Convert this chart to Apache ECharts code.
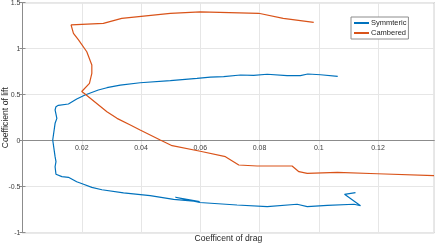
<!DOCTYPE html>
<html>
<head>
<meta charset="utf-8">
<script src="https://cdn.jsdelivr.net/npm/echarts@6/dist/echarts.min.js"></script>
<style>html,body{margin:0;padding:0;background:#fff}#c{width:436px;height:243px}</style>
</head>
<body>
<div id="c"></div>
<script>
const seriesNames = ['Symmteric', 'Cambered'];
const symDrag = [0.1124,0.1087,0.1141,0.1119,0.1029,0.0961,0.0927,0.0826,0.0724,0.0598,0.0516,0.0598,0.0510,0.0431,0.0341,0.0268,0.0234,0.0206,0.0183,0.0155,0.0133,0.0113,0.0110,0.0113,0.0110,0.0102,0.0110,0.0116,0.0110,0.0113,0.0121,0.0155,0.0183,0.0211,0.0256,0.0285,0.0330,0.0397,0.0499,0.0589,0.0634,0.0679,0.0736,0.0780,0.0826,0.0893,0.0938,0.0963,0.1006,0.1064];
const symLift = [-0.565,-0.583,-0.707,-0.691,-0.702,-0.717,-0.691,-0.717,-0.699,-0.672,-0.615,-0.662,-0.638,-0.598,-0.567,-0.533,-0.508,-0.474,-0.446,-0.398,-0.391,-0.365,-0.283,-0.228,-0.174,0.008,0.189,0.243,0.334,0.370,0.385,0.399,0.453,0.497,0.551,0.576,0.605,0.630,0.652,0.678,0.692,0.696,0.714,0.711,0.722,0.707,0.707,0.725,0.717,0.700];
const camDrag = [0.1389,0.1198,0.1063,0.0961,0.0933,0.0910,0.0792,0.0730,0.0685,0.0600,0.0505,0.0465,0.0397,0.0364,0.0319,0.0285,0.0211,0.0200,0.0226,0.0234,0.0234,0.0217,0.0189,0.0172,0.0164,0.0273,0.0279,0.0335,0.0499,0.0600,0.0797,0.0880,0.0983];
const camLift = [-0.380,-0.359,-0.344,-0.355,-0.337,-0.275,-0.275,-0.264,-0.174,-0.115,-0.054,0.008,0.116,0.171,0.243,0.315,0.508,0.535,0.624,0.733,0.823,0.967,1.095,1.167,1.258,1.276,1.283,1.330,1.385,1.400,1.385,1.330,1.287];
const xTicks = [0.02, 0.04, 0.06, 0.08, 0.1, 0.12];
const yTicks = [-1, -0.5, 0, 0.5, 1, 1.5];

const zip = (a, b) => a.map((v, i) => [v, b[i]]);
const font = 'Liberation Sans, Arial, sans-serif';
const chart = echarts.init(document.getElementById('c'), null, {renderer: 'canvas'});
chart.setOption({
  animation: false,
  backgroundColor: '#fff',
  grid: {left: 22.5, right: 1.7, top: 2.7, bottom: 10.3, containLabel: false, outerBoundsMode: 'none',
    show: true, borderColor: '#8c8c8c', borderWidth: 1},
  legend: {
    data: seriesNames, orient: 'vertical', left: 351, top: 17,
    itemWidth: 15, itemHeight: 2, itemGap: 2, icon: 'rect',
    backgroundColor: '#fff', borderColor: '#8c8c8c', borderWidth: 1, padding: [2, 2, 2, 3],
    textStyle: {fontSize: 7.5, fontFamily: font, color: '#262626', lineHeight: 8, padding: [0, 0, 0, -3]}
  },
  xAxis: {
    type: 'value', min: 0, max: 0.139, interval: 0.02,
    name: 'Coefficent of drag', nameLocation: 'middle', nameGap: 1.5, nameMoveOverlap: false,
    nameTextStyle: {fontSize: 8.6, fontFamily: font, color: '#262626'},
    axisLine: {onZero: true, lineStyle: {color: '#8c8c8c', width: 1}},
    axisTick: {show: false},
    axisLabel: {fontSize: 7, fontFamily: font, color: '#404040', margin: -88, showMinLabel: false, showMaxLabel: false,
      formatter: v => xTicks.some(t => Math.abs(t - v) < 1e-9) ? String(v) : ''},
    splitLine: {show: true, lineStyle: {color: '#e6e6e6', width: 1}}
  },
  yAxis: [{
    type: 'value', min: -1, max: 1.5, interval: 0.5, position: 'left',
    name: 'Coefficient of lift', nameLocation: 'middle', nameGap: 12, nameMoveOverlap: false,
    nameTextStyle: {fontSize: 8.6, fontFamily: font, color: '#262626'},
    axisLine: {show: true, onZero: false, lineStyle: {color: '#8c8c8c', width: 1}},
    axisTick: {show: true, inside: true, length: 3, lineStyle: {color: '#8c8c8c'}},
    axisLabel: {fontSize: 7, fontFamily: font, color: '#404040', margin: 2,
      formatter: v => yTicks.some(t => Math.abs(t - v) < 1e-9) ? String(v) : ''},
    splitLine: {show: true, lineStyle: {color: '#e6e6e6', width: 1}}
  }, {
    type: 'value', min: -1, max: 1.5, interval: 0.5, position: 'right',
    axisLine: {show: false}, axisLabel: {show: false}, splitLine: {show: false},
    axisTick: {show: true, inside: true, length: 3, lineStyle: {color: '#8c8c8c'}}
  }],
  series: [
    {name: seriesNames[0], type: 'line', data: zip(symDrag, symLift), showSymbol: false, symbol: 'none',
     lineStyle: {color: '#0072BD', width: 1.2}, itemStyle: {color: '#0072BD'}, z: 3},
    {name: seriesNames[1], type: 'line', data: zip(camDrag, camLift), showSymbol: false, symbol: 'none',
     lineStyle: {color: '#D95319', width: 1.2}, itemStyle: {color: '#D95319'}, z: 3}
  ]
});
</script>
</body>
</html>
